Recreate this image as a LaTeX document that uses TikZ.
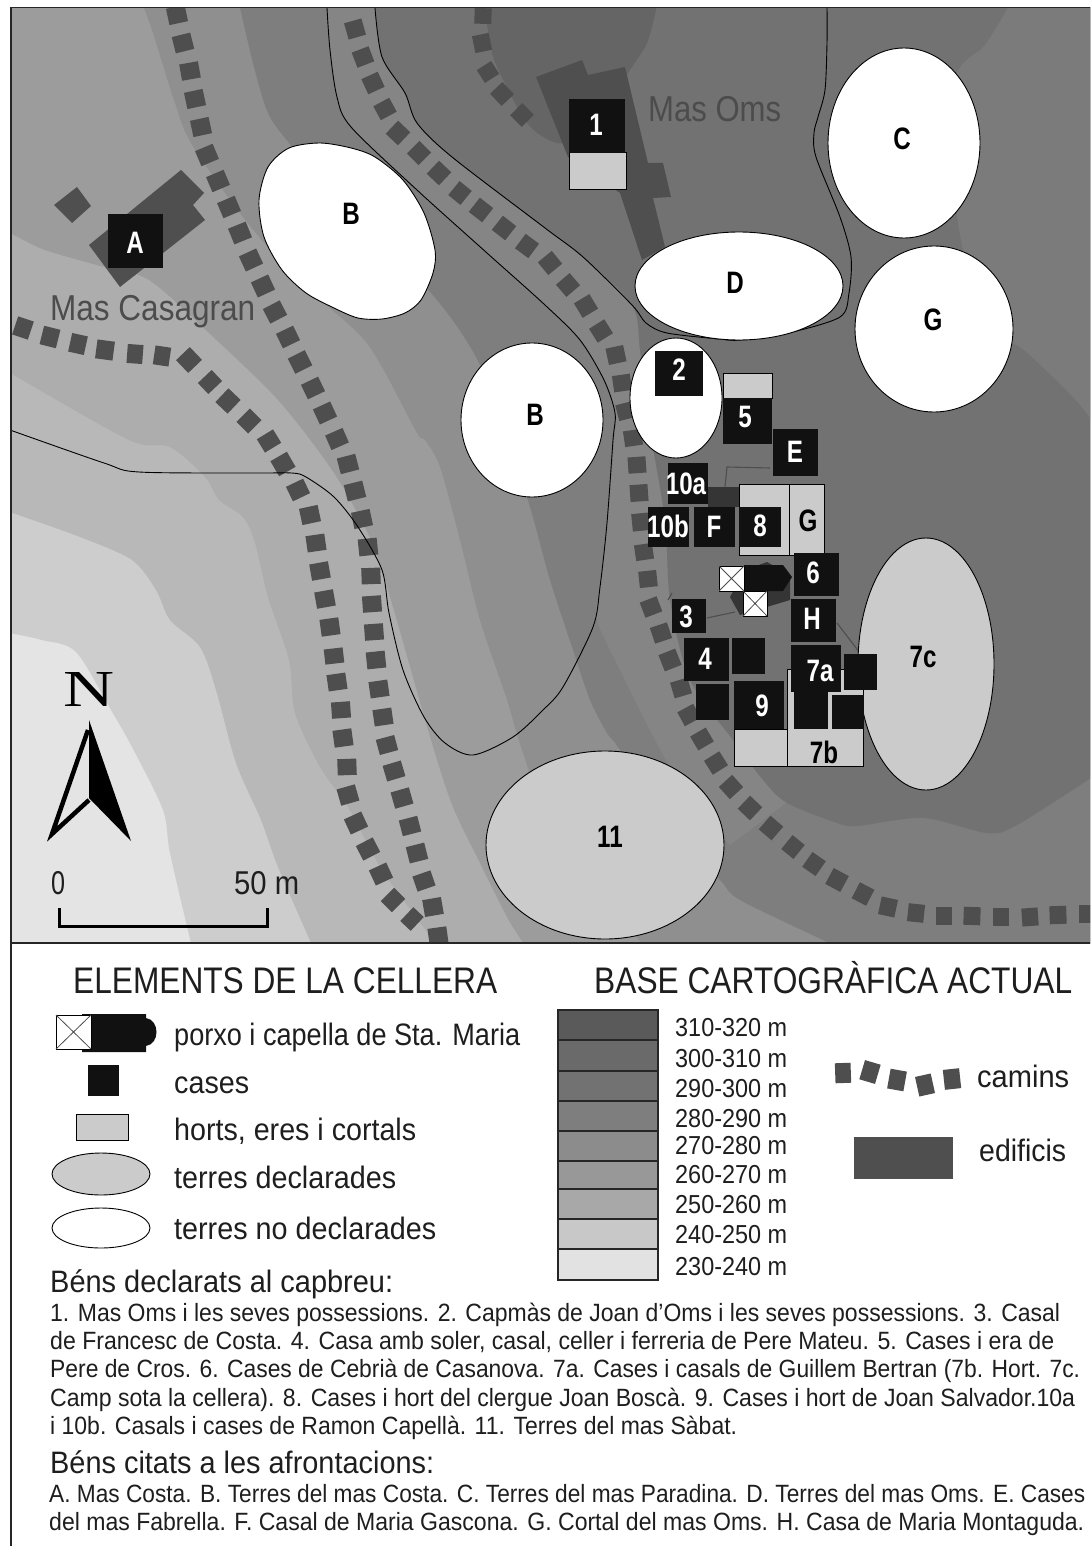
\documentclass[tikz,border=0pt]{standalone}
\usepackage{fontspec}
\usepackage{graphicx}
\usetikzlibrary{calc}
\setmainfont{Liberation Sans}
\newfontfamily\serifN{Liberation Serif}
\definecolor{ink}{HTML}{1E1E1E}
\definecolor{blackbox}{HTML}{111111}
\definecolor{roadc}{HTML}{4E4E4E}
\definecolor{bldg}{HTML}{4F4F4F}
\definecolor{garden}{HTML}{CBCBCB}
\definecolor{lvA}{HTML}{E4E4E4}
\definecolor{lvB}{HTML}{CDCDCD}
\definecolor{lvC}{HTML}{B8B8B8}
\definecolor{lvD}{HTML}{ADADAD}
\definecolor{lvE}{HTML}{9C9C9C}
\definecolor{lvF}{HTML}{8F8F8F}
\definecolor{lvG}{HTML}{7E7E7E}
\definecolor{lvS}{HTML}{858585}
\definecolor{lvH}{HTML}{727272}
\definecolor{lvI}{HTML}{7B7B7B}
\definecolor{lvJ}{HTML}{656565}
\tikzset{
  land/.style={draw=black,line width=0.9pt},
  thinline/.style={draw=black,line width=0.9pt},
  tracks/.style={draw=#1,line width=1.1pt},
  blackcase/.style={fill=blackbox},
  gardenbox/.style={fill=garden,draw=black,line width=1pt},
  mapl/.style={inner sep=0pt,font=\fontsize{31}{31}\selectfont\bfseries,text height=22pt,text depth=0pt},
  txt/.style={inner sep=0pt,anchor=base west,text=ink}
}
\newcommand{\roadline}[2]{%
  \foreach \px/\py [count=\i, remember=\px as \qx (initially 0), remember=\py as \qy (initially 0)] in {#2} {
    \ifnum\i>1
      \draw[draw=roadc,line width=#1pt] ($(\qx,\qy)!-.29!(\px,\py)$) -- ($(\qx,\qy)!.29!(\px,\py)$);
    \fi
  }%
}
\newcommand{\ml}[5]{\node[mapl,text=#4] (#1) at (#2,#3) {\scalebox{.78}[1]{#5}};}
\newcommand{\tl}[6]{\pgfmathsetmacro\wdt{#4-#2}\node[txt,font=\fontsize{#5}{#5}\selectfont] (#1) at (#2,#3) {\resizebox{\wdt pt}{\height}{#6}};}
\newcommand{\blk}[4]{\fill[blackcase] (#1,#2) rectangle (#3,#4);}
\newcommand{\gar}[4]{\path[gardenbox] (#1,#2) rectangle (#3,#4);}
\newcommand{\xsq}[4]{\path[fill=white,draw=black,line width=1pt] (#1,#2) rectangle (#3,#4);
  \draw[black!70,line width=.8pt] (#1,#2) -- (#3,#4) (#1,#4) -- (#3,#2);}
\begin{document}
\begin{tikzpicture}[x=1pt,y=-1pt]
\useasboundingbox (0,0) rectangle (1090,1546);
\fill[white] (0,0) rectangle (1090,1546);
% ---------- map ----------
\begin{scope}
\clip (11,8) rectangle (1090,943);
\fill[lvA] (0,0) rectangle (1100,950);
\fill[lvB] plot[smooth] coordinates {(0,630) (10,633) (42,640) (76,652) (111,710) (132,747) (163,810) (170,853) (191,943) (195,955)} -- (1100,955) -- (1100,0) -- (0,0) -- cycle;
\fill[lvC] plot[smooth] coordinates {(0,508) (10,512) (80,537) (132,560) (156,590) (170,620) (200,647) (216,690) (236,763) (261,820) (278,867) (311,943) (316,955)} -- (1100,955) -- (1100,0) -- (0,0) -- cycle;
\fill[lvD] plot[smooth] coordinates {(0,367) (10,373) (129,440) (170,447) (205,477) (219,500) (243,517) (255,543) (268,597) (289,660) (295,713) (320,767) (348,807) (382,870) (435,943) (440,955)} -- (1100,955) -- (1100,0) -- (0,0) -- cycle;
\fill[lvE] plot[smooth] coordinates {(0,229) (10,233) (45,250) (104,267) (149,280) (209,333) (278,400) (330,467) (361,520) (382,570) (431,740) (453,807) (480,863) (507,917) (523,943) (528,955)} -- (1100,955) -- (1100,0) -- (0,0) -- cycle;
\fill[lvF] plot[smooth] coordinates {(142,0) (144,8) (153,33) (174,100) (191,143) (243,217) (295,277) (358,333) (382,367) (417,433) (425,440) (440,467) (460,540) (480,620) (507,700) (523,753) (560,850) (630,930) (653,955)} -- (1100,955) -- (1100,0) -- cycle;
\fill[lvG] plot[smooth] coordinates {(238,0) (240,8) (254,67) (268,113) (289,143) (350,215) (431,293) (476,357) (505,430) (530,507) (550,580) (573,650) (590,700) (607,733) (620,750) (670,830) (720,880) (740,900) (827,942) (850,955)} -- (1100,955) -- (1100,0) -- cycle;
\fill[lvS] plot[smooth] coordinates {(327,0) (330,50) (337,97) (351,127) (417,190) (487,253) (545,305) (580,340) (604,380) (615,413) (615,433) (607,523) (600,587) (597,620) (625,680) (655,740) (690,800) (730,845)} -- (790,800) -- (1000,500) -- (375,0) -- cycle;
\fill[lvH] plot[smooth] coordinates {(375,0) (375,8) (382,57) (405,93) (417,123) (452,157) (545,228) (583,257) (632,305) (640,350) (650,430) (665,520) (670,600) (690,680) (733,740) (763,780) (787,803) (837,823) (857,826) (923,818) (987,833) (1017,825) (1100,772)} -- (1100,0) -- cycle;
\fill[lvI] plot[smooth] coordinates {(1012,0) (1008,8) (985,45) (955,80) (955,200) (975,300) (998,343) (1020,347) (1073,397) (1095,425)} -- (1100,0) -- cycle;
\fill[lvJ] plot[smooth] coordinates {(483,0) (485,10) (490,43) (497,67) (527,123) (557,143) (585,135) (610,100) (630,70) (647,43) (656,10) (657,0)} -- cycle;
% buildings
\fill[bldg] (54,205) -- (77,187) -- (91,206) -- (72,223) -- cycle;
\fill[bldg] (181,170) -- (204,193) -- (193,205) -- (205,220) -- (120,287) -- (89,245) -- cycle;
\fill[bldg] (536,77) -- (582,60) -- (588,75) -- (625,67) -- (648,163) -- (663,163) -- (671,197) -- (653,198) -- (665,247) -- (642,260) -- (620,193) -- (568,157) -- cycle;
\fill[bldg!115] (708,487) rectangle (742,507);
\fill[bldg!115] (730,597) -- (745,570) -- (767,562) -- (790,575) -- (790,600) -- (740,615) -- cycle;
% roads
\roadline{19}{177/15,183/43,190/71,195/99,201/127,207/155,218/181,229/207,240/233,251/260,263/286,275/312,288/337,300/362,313/388,325/413,337/439,348/464,355/491,362/519,368/547,371/576,372/604,374/632,376/660,379/689,383/717,387/745,394/771,402/798,410/826,417/853,424/881,433/907,438/936,442/965}
\roadline{18}{355/29,363/57,373/83,385/109,398/133,419/153,439/173,460/193,481/210,504/228,527/246,550/263,568/285,586/306,601/331,616/355,622/383,626/411,633/438,637/465,639/493,641/522,644/552,648/579,651/607,661/633,670/660,681/688,689/715,702/739,716/763,731/787,750/808,771/828,793/847,814/864,837/880,863/894,888/907,916/913,944/916,972/916,1001/917,1030/917,1058/915,1087/914,1115/914}
\roadline{17}{483/16,482/43,488/72,502/94,522/115,542/135}
\roadline{19}{23/328,50/337,78/344,105/350,135/354,162/356,189/360,210/382,228/401,249/421,269/441,283/464,298/490,310/515,316/543,320/571,325/599,330/627,334/656,337/682,341/710,343/738,347/767,348/795,356/823,368/849,381/874,393/900,412/919,430/936}
% track lines
\draw[tracks=roadc] (725,487) -- (727,467) -- (770,468);
\draw[tracks=roadc] (707,618) -- (735,612);
\draw[tracks=roadc] (837,623) -- (860,653);
\draw[tracks=roadc] (672,593) -- (668,600);
% thin lines
\draw[thinline] plot[smooth] coordinates {(10,430) (104,463) (139,472) (257,473) (292,473) (306,477) (334,497) (358,527) (382,570) (389,613) (403,670) (424,717) (445,743) (473,755) (513,737) (543,710) (563,687) (593,627) (600,587) (607,523) (613,440) (615,413) (604,380) (580,340) (545,305) (487,253) (417,190) (351,127) (337,97) (330,50) (327,8)};
\draw[thinline] plot[smooth] coordinates {(375,8) (382,57) (405,93) (417,123) (452,157) (545,228) (583,257) (632,305) (646,323) (667,333) (719,339) (740,340) (788,333) (840,317) (849,293) (851,257) (840,217) (816,157) (814,133) (818,117) (825,90) (827,43) (827,8)};
% lands
\path[land,fill=white] plot[smooth cycle] coordinates {(320,143) (351,148) (375,157) (403,180) (424,213) (435,250) (433,273) (421,300) (405,313) (382,319) (358,318) (334,308) (306,293) (282,270) (264,237) (259,200) (268,167) (289,148)};
\path[land,fill=white] (532,420) ellipse (71pt and 77pt);
\path[land,fill=white] (904,143) ellipse (76pt and 95pt);
\path[land,fill=white] (739,286) ellipse (104pt and 54pt);
\path[land,fill=white] (934,329) ellipse (79pt and 83pt);
\path[land,fill=white] (676,398) ellipse (46pt and 60pt);
\path[land,fill=garden] (926,664) ellipse (68pt and 126pt);
\path[land,fill=garden] (605,845) ellipse (119pt and 94pt);
% cases and gardens
\gar{569}{153}{626}{190}
\blk{108}{214}{163}{268}
\blk{569}{99}{625}{153}
\blk{655}{351}{703}{396}
\gar{723}{373}{772}{398}
\blk{723}{398}{772}{444}
\blk{773}{429}{818}{476}
\gar{739}{484}{789}{555}
\gar{789}{484}{824}{555}
\gar{734}{729}{787}{766}
\gar{787}{669}{863}{766}
\blk{668}{463}{708}{504}
\blk{648}{507}{689}{547}
\blk{694}{507}{735}{547}
\blk{739}{507}{781}{547}
\blk{794}{553}{839}{596}
\fill[blackcase] (744,565) -- (783,565) -- (792,577) -- (783,591) -- (744,591) -- cycle;
\xsq{719}{566}{744}{591}
\xsq{743}{591}{767}{616}
\blk{791}{599}{836}{642}
\blk{672}{599}{706}{633}
\blk{684}{638}{729}{681}
\blk{732}{638}{765}{674}
\blk{696}{684}{729}{720}
\blk{734}{681}{784}{729}
\blk{794}{692}{828}{729}
\blk{832}{695}{864}{729}
\blk{791}{645}{841}{692}
\blk{844}{654}{877}{690}
% map labels
\ml{lA}{135}{243}{white}{A}
\ml{lB}{351}{214}{black}{B}
\ml{lBb}{535}{414}{black}{B}
\ml{lC}{902}{139}{black}{C}
\ml{lD}{735}{282}{black}{D}
\ml{lG}{933}{319}{black}{G}
\ml{lXI}{610}{836}{black}{11}
\ml{lVIIc}{923}{656}{black}{7c}
\ml{lI}{596}{125}{white}{1}
\ml{lII}{679}{369}{white}{2}
\ml{lV}{745}{416}{white}{5}
\ml{lE}{795}{451}{white}{E}
\ml{lXa}{686}{483}{white}{10a}
\ml{lXb}{668}{526}{white}{10b}
\ml{lF}{714}{526}{white}{F}
\ml{lVIII}{760}{525}{white}{8}
\ml{lGg}{808}{520}{black}{G}
\ml{lVI}{813}{572}{white}{6}
\ml{lH}{812}{618}{white}{H}
\ml{lIII}{686}{616}{white}{3}
\ml{lIV}{705}{658}{white}{4}
\ml{lVIIa}{820}{670}{white}{7a}
\ml{lIX}{762}{705}{white}{9}
\ml{lVIIb}{824}{752}{black}{7b}
\node[inner sep=0pt,anchor=base west,text=black!70,font=\fontsize{36}{36}\selectfont] (casagran) at (50,320) {\resizebox{205pt}{\height}{Mas Casagran}};
\node[inner sep=0pt,anchor=base west,text=black!70,font=\fontsize{36}{36}\selectfont] (oms) at (648,122) {\resizebox{133pt}{\height}{Mas Oms}};
% north arrow and scale
\node[inner sep=0pt,anchor=south west,text=black] (north) at (63,707) {\resizebox{51pt}{34pt}{\serifN N}};
\fill[black] (89,720) -- (131,841) -- (89,798) -- cycle;
\draw[black,line width=4.5pt,line join=miter,miter limit=10] (88,730) -- (52,834) -- (89,800);
\draw[black,line width=3pt] (59,908) -- (59,926) -- (267,926) -- (267,908);
\tl{scz}{51}{894}{65}{33}{0}
\tl{scf}{234}{894}{299}{33}{50 m}
\end{scope}
% frame
\draw[black!85,line width=1.6pt] (1090,7.5) -- (11,7.5) -- (11,1546);
\draw[black!85,line width=1.6pt] (11,943) -- (1090,943);
% ---------- legend left ----------
\tl{ti}{73}{993}{497}{37}{ELEMENTS DE LA CELLERA}
\tl{tii}{594}{993}{1072}{37}{BASE CARTOGRÀFICA ACTUAL}
\fill[blackcase] (82,1014) -- (146,1014) -- (146,1018) .. controls (160,1020) and (160,1044) .. (146,1046) -- (146,1052) -- (82,1052) -- cycle;
\xsq{56}{1015}{91}{1049}
\fill[blackcase] (88,1065) rectangle (119,1096);
\path[gardenbox] (76,1114) rectangle (128,1140);
\path[land,fill=garden] (101,1174) ellipse (49pt and 21pt);
\path[land,fill=white] (101,1228) ellipse (49pt and 20pt);
\tl{li}{174}{1045}{520}{31}{porxo i capella de Sta. Maria}
\tl{lii}{174}{1093}{249}{31}{cases}
\tl{liii}{174}{1140}{416}{31}{horts, eres i cortals}
\tl{liv}{174}{1188}{396}{31}{terres declarades}
\tl{lv}{174}{1239}{436}{31}{terres no declarades}
% ---------- legend right ----------
\foreach \ya/\yb/\c in {1010/1040/5A5A5A,1040/1071/6A6A6A,1071/1101/727272,1101/1131/7E7E7E,1131/1161/8C8C8C,1161/1189/989898,1189/1219/A8A8A8,1219/1249/C8C8C8,1249/1280/E2E2E2}{
  \definecolor{cc}{HTML}{\c}
  \path[fill=cc,draw=black!85,line width=1.2pt] (558,\ya) rectangle (658,\yb);
}
\tl{eI}{675}{1036}{787}{26}{310-320 m}
\tl{eII}{675}{1067}{787}{26}{300-310 m}
\tl{eIII}{675}{1097}{787}{26}{290-300 m}
\tl{eIV}{675}{1127}{787}{26}{280-290 m}
\tl{eV}{675}{1154}{787}{26}{270-280 m}
\tl{eVI}{675}{1183}{787}{26}{260-270 m}
\tl{eVII}{675}{1213}{787}{26}{250-260 m}
\tl{eVIII}{675}{1243}{787}{26}{240-250 m}
\tl{eIX}{675}{1275}{787}{26}{230-240 m}
\roadline{20}{843/1073,870/1072,897/1080,925/1085,952/1079,980/1076}
\tl{cam}{977}{1087}{1069}{31}{camins}
\fill[bldg] (854,1137) rectangle (953,1179);
\tl{edi}{979}{1161}{1066}{31}{edificis}
% ---------- text ----------
\tl{hA}{50}{1292}{393}{31}{Béns declarats al capbreu:}
\tl{bI}{50}{1321}{1060}{25}{1. Mas Oms i les seves possessions. 2. Capmàs de Joan d'Oms i les seves possessions. 3. Casal}
\tl{bII}{50}{1349}{1054}{25}{de Francesc de Costa. 4. Casa amb soler, casal, celler i ferreria de Pere Mateu. 5. Cases i era de}
\tl{bIII}{50}{1377}{1080}{25}{Pere de Cros. 6. Cases de Cebrià de Casanova. 7a. Cases i casals de Guillem Bertran (7b. Hort. 7c.}
\tl{bIV}{50}{1406}{1075}{25}{Camp sota la cellera). 8. Cases i hort del clergue Joan Boscà. 9. Cases i hort de Joan Salvador.10a}
\tl{bV}{50}{1434}{737}{25}{i 10b. Casals i cases de Ramon Capellà. 11. Terres del mas Sàbat.}
\tl{hB}{50}{1473}{434}{31}{Béns citats a les afrontacions:}
\tl{cI}{49}{1502}{1085}{25}{A. Mas Costa. B. Terres del mas Costa. C. Terres del mas Paradina. D. Terres del mas Oms. E. Cases}
\tl{cII}{49}{1530}{1084}{25}{del mas Fabrella. F. Casal de Maria Gascona. G. Cortal del mas Oms. H. Casa de Maria Montaguda.}
\end{tikzpicture}
\end{document}
